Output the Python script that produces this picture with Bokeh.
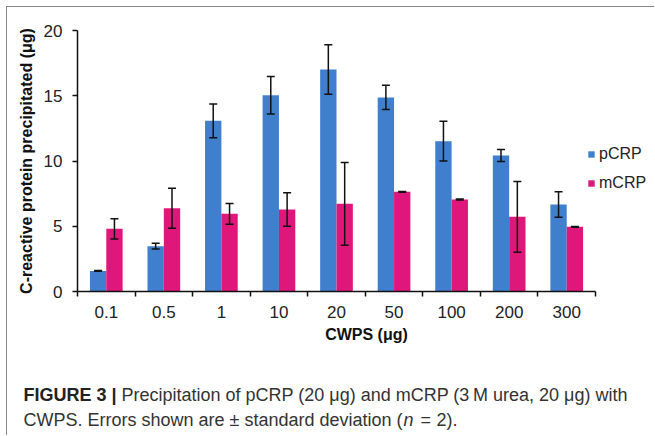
from bokeh.plotting import figure
from bokeh.models import (Range1d, FixedTicker, ColumnDataSource, Whisker, TeeHead,
                          Legend, LegendItem, Label)
from bokeh.embed import file_html
from bokeh.resources import INLINE

# ---- data ----
categories = ["0.1", "0.5", "1", "10", "20", "50", "100", "200", "300"]
pcrp = [1.58, 3.47, 13.08, 15.04, 17.01, 14.87, 11.52, 10.42, 6.67]
pcrp_sd = [0.03, 0.22, 1.29, 1.44, 1.89, 0.93, 1.52, 0.46, 0.98]
mcrp = [4.80, 6.38, 5.95, 6.28, 6.72, 7.64, 7.05, 5.72, 4.96]
mcrp_sd = [0.77, 1.53, 0.79, 1.28, 3.17, 0.03, 0.03, 2.71, 0.03]
y_ticks = [0, 5, 10, 15, 20]
series_names = ["pCRP", "mCRP"]

BLUE = "#3F7FCE"
PINK = "#E0177A"
BAR_W = 0.284
FONT = "Liberation Sans"
INK = "#111111"
FRAME_CSS = "1px solid #8a8a8a"

n = len(categories)
centers = [i + 0.5 for i in range(n)]
x_p = [c - BAR_W / 2 for c in centers]
x_m = [c + BAR_W / 2 for c in centers]

src_p = ColumnDataSource(dict(x=x_p, top=pcrp,
                              upper=[v + s for v, s in zip(pcrp, pcrp_sd)],
                              lower=[v - s for v, s in zip(pcrp, pcrp_sd)]))
src_m = ColumnDataSource(dict(x=x_m, top=mcrp,
                              upper=[v + s for v, s in zip(mcrp, mcrp_sd)],
                              lower=[v - s for v, s in zip(mcrp, mcrp_sd)]))

# layout: the category axis spans 518 px; the frame continues to the right
# edge so that the legend (inside the frame) is not clipped
OFF = 7                      # 6px margin + 1px frame line
W, H = 655 - OFF, 344
LEFT, TOP, FRAME_H, AXIS_PX = 77 - OFF, 30 - OFF, 261, 518
frame_w = W - LEFT
x_max = n * frame_w / AXIS_PX

p = figure(width=W, height=H, output_backend="svg", toolbar_location=None,
           x_range=Range1d(0, x_max), y_range=Range1d(0, 20),
           min_border_left=LEFT, min_border_right=0,
           min_border_top=TOP, min_border_bottom=H - TOP - FRAME_H)
p.outline_line_color = None
p.grid.visible = False
p.styles = {"margin-left": "6px", "margin-top": "6px",
            "border-left": FRAME_CSS, "border-top": FRAME_CSS}

rp = p.vbar(x="x", top="top", width=BAR_W, bottom=0, source=src_p,
            fill_color=BLUE, line_color=None)
rm = p.vbar(x="x", top="top", width=BAR_W, bottom=0, source=src_m,
            fill_color=PINK, line_color=None)

for src in (src_p, src_m):
    w = Whisker(base="x", upper="upper", lower="lower", source=src,
                dimension="height", line_color=INK, line_width=1.5, level="overlay",
                upper_head=TeeHead(size=8, line_color=INK, line_width=1.5),
                lower_head=TeeHead(size=8, line_color=INK, line_width=1.5))
    p.add_layout(w)

# x axis: labels at category centres, tick marks at category boundaries
xa = p.xaxis[0]
xa.bounds = (0, n)
xa.ticker = FixedTicker(ticks=centers, minor_ticks=list(range(n + 1)))
xa.major_label_overrides = {c: lab for c, lab in zip(centers, categories)}
xa.major_tick_out = 0
xa.major_tick_in = 0
xa.minor_tick_out = 5
xa.minor_tick_in = 0
xa.minor_tick_line_color = INK
xa.minor_tick_line_width = 1.5
xa.axis_line_color = INK
xa.axis_line_width = 1.5
xa.major_label_text_font = FONT
xa.major_label_text_font_size = "17px"
xa.major_label_text_color = "#222222"
xa.major_label_standoff = 9
xa.axis_label = "CWPS (\u03bcg)"
xa.axis_label_text_font = FONT
xa.axis_label_text_font_style = "bold"
xa.axis_label_text_font_size = "16px"
xa.axis_label_text_color = INK
xa.axis_label_standoff = 5

ya = p.yaxis[0]
ya.ticker = FixedTicker(ticks=y_ticks)
ya.minor_tick_line_color = None
ya.major_tick_out = 5
ya.major_tick_in = 0
ya.major_tick_line_color = INK
ya.major_tick_line_width = 1.5
ya.axis_line_color = INK
ya.axis_line_width = 1.5
ya.major_label_text_font = FONT
ya.major_label_text_font_size = "17px"
ya.major_label_text_color = "#222222"
ya.major_label_standoff = 10
ya.axis_label = "C-reactive protein precipitated (\u03bcg)"
ya.axis_label_text_font = FONT
ya.axis_label_text_font_style = "bold"
ya.axis_label_text_font_size = "16px"
ya.axis_label_text_color = INK
ya.axis_label_standoff = 6

legend = Legend(items=[LegendItem(label=series_names[0], renderers=[rp]),
                       LegendItem(label=series_names[1], renderers=[rm])],
                location=(AXIS_PX - 8, 98), orientation="vertical",
                glyph_width=8, glyph_height=8, label_standoff=4,
                label_height=20, spacing=9, padding=0, margin=0,
                border_line_color=None, background_fill_alpha=0,
                label_text_font=FONT, label_text_font_size="16px",
                label_text_color="#222222")
p.add_layout(legend)

# ---- caption (second root, placed under the chart) ----
CW, CH = W, 436 - OFF - H
cap = figure(width=CW, height=CH, output_backend="svg", toolbar_location=None,
             x_range=Range1d(0, CW), y_range=Range1d(0, CH),
             min_border=0, min_border_left=0, min_border_right=0,
             min_border_top=0, min_border_bottom=0)
cap.axis.visible = False
cap.grid.visible = False
cap.outline_line_color = None
cap.styles = {"margin-left": "6px", "border-left": FRAME_CSS}

CAP_FONT = "Liberation Sans"
CAP_COLOR = "#333333"
cap_parts = [
    ("FIGURE 3 |", 16, 41, "bold"),
    ("Precipitation of pCRP (20 \u03bcg) and mCRP (3\u2009M urea, 20 \u03bcg) with", 114, 41, "normal"),
    ("CWPS. Errors shown are \u00b1 standard deviation (", 16, 16, "normal"),
    ("n", 396, 16, "italic"),
    ("=", 413, 16, "normal"),
    ("2).", 429, 16, "normal"),
]
for text, x, y, style in cap_parts:
    cap.add_layout(Label(text=text, x=x, y=y,
                         text_font=CAP_FONT, text_font_size="18px", text_font_style=style,
                         text_color="#222222" if style == "bold" else CAP_COLOR,
                         text_baseline="alphabetic", text_align="left"))

open("out.html", "w").write(file_html([p, cap], INLINE))
